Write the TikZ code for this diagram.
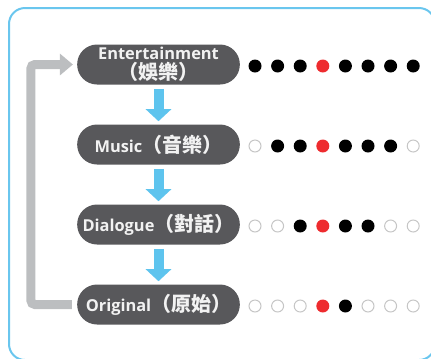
\documentclass[tikz,border=0pt]{standalone}
\usepackage{fontspec}
\setmainfont{Open Sans}
\newfontfamily\cjk{Noto Sans CJK TC}
\usepackage{tikz}
\usetikzlibrary{arrows.meta,positioning}
\definecolor{PillGray}{HTML}{58585B}
\definecolor{FrameBlue}{HTML}{6AC6EE}
\definecolor{ArrowBlue}{HTML}{5EC4EE}
\definecolor{BackGray}{HTML}{BCBEC0}
\definecolor{DotRed}{HTML}{EE2B2E}
\definecolor{RingGray}{HTML}{C6C6C6}
\newcommand{\zh}[1]{{\cjk\fontsize{15}{13.5}\selectfont #1}}
\tikzstyle{pill} = [fill=PillGray,text=white!95!black,rectangle,rounded corners=14.9pt,minimum width=122pt,minimum height=30pt,inner sep=0pt,font=\bfseries\fontsize{12.3}{13.5}\selectfont,align=center,node distance=60pt]
\tikzstyle{down} = [draw=ArrowBlue,line width=7.5pt,-{Triangle[width=18.75pt,length=9pt]},shorten <=3pt,shorten >=2.25pt]
\tikzstyle{back} = [draw=BackGray,line width=6.75pt,rounded corners=3pt,-{Triangle[width=15.75pt,length=9.75pt]},shorten <=3.75pt,shorten >=3pt]
\tikzset{
  dotk/.style={circle,fill=black,minimum size=9.75pt,inner sep=0pt},
  dotr/.style={circle,fill=DotRed,minimum size=9.75pt,inner sep=0pt},
  doto/.style={circle,draw=RingGray,line width=0.75pt,fill=white,minimum size=9pt,inner sep=0pt}
}

\begin{document}
\begin{tikzpicture}[x=0.75pt,y=-0.75pt]
	\useasboundingbox (0,0) rectangle (431,358);
	\draw[FrameBlue,line width=1.5pt,rounded corners=12pt] (9,8) rectangle (435,360);
	\node[pill] (c1) at (158.5,64.5) {Entertainment\\[1.2pt]\zh{（娛樂）}};
	\node[pill,below of=c1] (c2) {Music\zh{（音樂）}};
	\node[pill,below of=c2] (c3) {Dialogue\zh{（對話）}};
	\node[pill,below of=c3] (c4) {Original\zh{（原始）}};
	
	\draw[down] (c1) -- (c2);
	\draw[down] (c2) -- (c3);
	\draw[down] (c3) -- (c4);
	\draw[back] (c4.west) -- ++(-46,0) |- (c1.west);
	
	% scale of dots beside each step
	\foreach \r/\pat in {1/{k,k,k,r,k,k,k,k},2/{o,k,k,r,k,k,k,o},3/{o,o,k,r,k,k,o,o},4/{o,o,o,r,k,o,o,o}}
	{
		\foreach \s [count=\i] in \pat
			\node[dot\s] (d\r-\i) at ({232.4+22.6*\i},{-14+80*\r}) {};
	}
\end{tikzpicture}
\end{document}
